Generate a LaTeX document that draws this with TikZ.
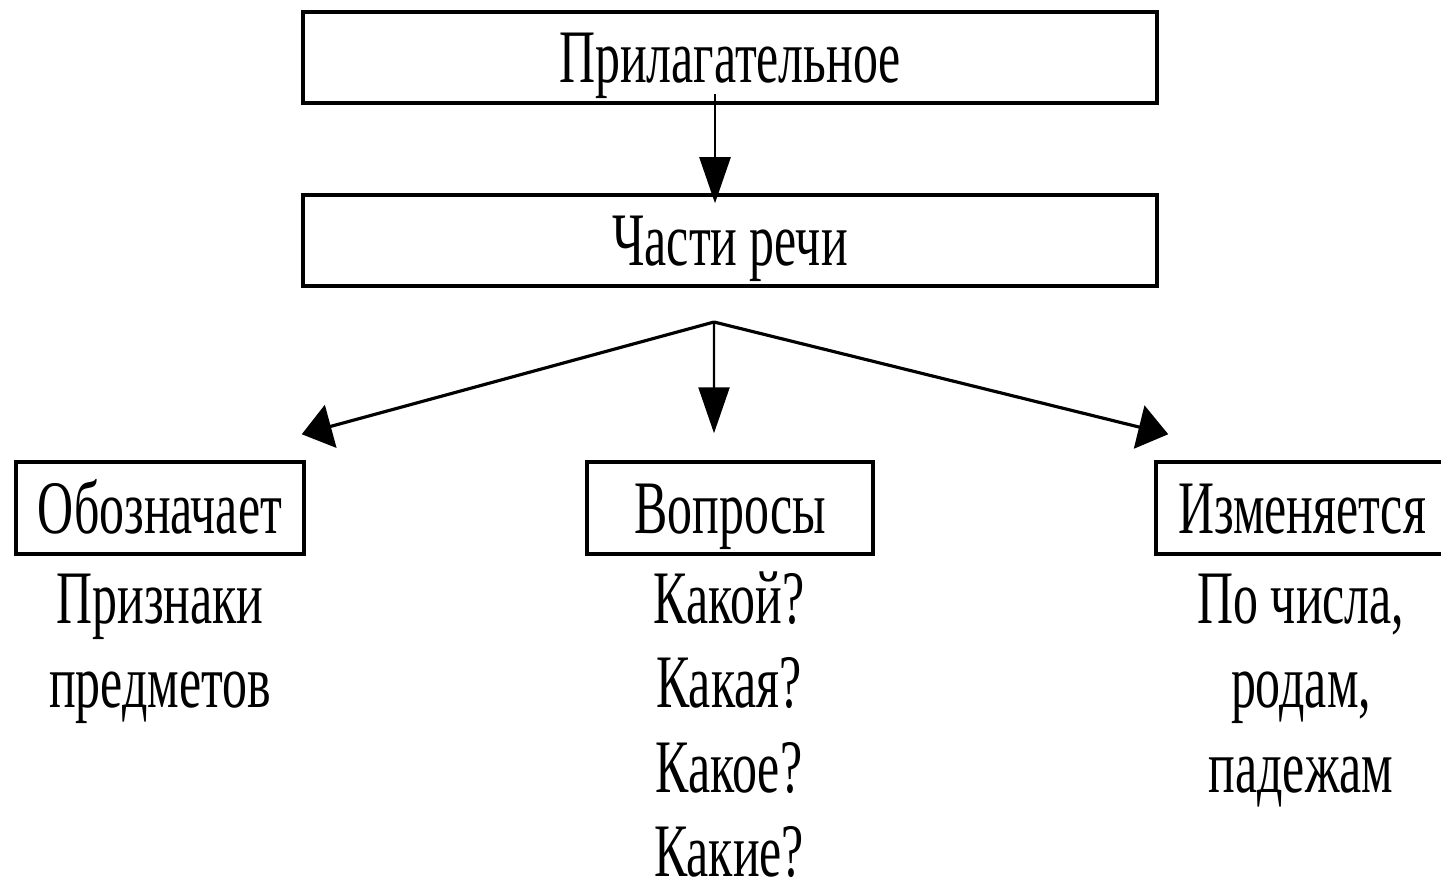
\documentclass[tikz,border=0pt]{standalone}
\usepackage{fontspec}
\setmainfont{Liberation Serif}[FakeStretch=0.66]
\usetikzlibrary{arrows.meta}

\begin{document}
\begin{tikzpicture}[
    every node/.style={font=\fontsize{21.5}{24}\selectfont},
    box/.style={draw, line width=1pt, inner sep=0pt, text height=0.5cm, text depth=0cm},
    plain/.style={inner sep=0pt, anchor=base},
    arr/.style={line width=0.7pt, -{Triangle[length=4.6mm,width=3.1mm]}},
    darr/.style={line width=0.9pt, -{Triangle[length=3mm,width=4.4mm]}}
  ]
    % Page
    \useasboundingbox (0,0) rectangle (14.41,-8.83);
    \clip (0,0) rectangle (14.41,-8.83);

    % Top boxes
    \node[box, minimum width=8.54cm, minimum height=0.91cm] (adj) at (7.30,-0.575) {Прилагательное};
    \node[box, minimum width=8.54cm, minimum height=0.91cm] (parts) at (7.30,-2.405) {Части речи};
    \draw[arr] ([shift={(-0.15,0.11)}]adj.south) -- ([shift={(-0.15,-0.10)}]parts.north);

    % Bottom boxes
    \node[box, minimum width=2.88cm, minimum height=0.92cm] (obozn) at (1.60,-5.08) {Обозначает};
    \node[box, minimum width=2.86cm, minimum height=0.92cm] (vopr) at (7.30,-5.08) {Вопросы};
    \node[box, minimum width=2.92cm, minimum height=0.92cm] (izm) at (13.02,-5.08) {Изменяется};

    % Arrows from the fork
    \coordinate (fork) at (7.14,-3.22);
    \draw[darr] (fork) -- ([shift={(-0.04,0.26)}]obozn.north east);
    \draw[arr] (fork) -- ([shift={(-0.16,0.27)}]vopr.north);
    \draw[darr] (fork) -- ([shift={(0.14,0.26)}]izm.north west);

    % Text under the boxes
    \foreach \txt [count=\i] in {Признаки, предметов}
        \node[plain] (sign\i) at (1.60,{-6.23-0.845*(\i-1)}) {\txt};
    \foreach \txt [count=\i] in {Какой?, Какая?, Какое?, Какие?}
        \node[plain] (quest\i) at (7.29,{-6.23-0.845*(\i-1)}) {\txt};
    \foreach \txt [count=\i] in {{По числа,}, {родам,}, падежам}
        \node[plain] (chg\i) at (13.01,{-6.23-0.845*(\i-1)}) {\txt};
\end{tikzpicture}
\end{document}
